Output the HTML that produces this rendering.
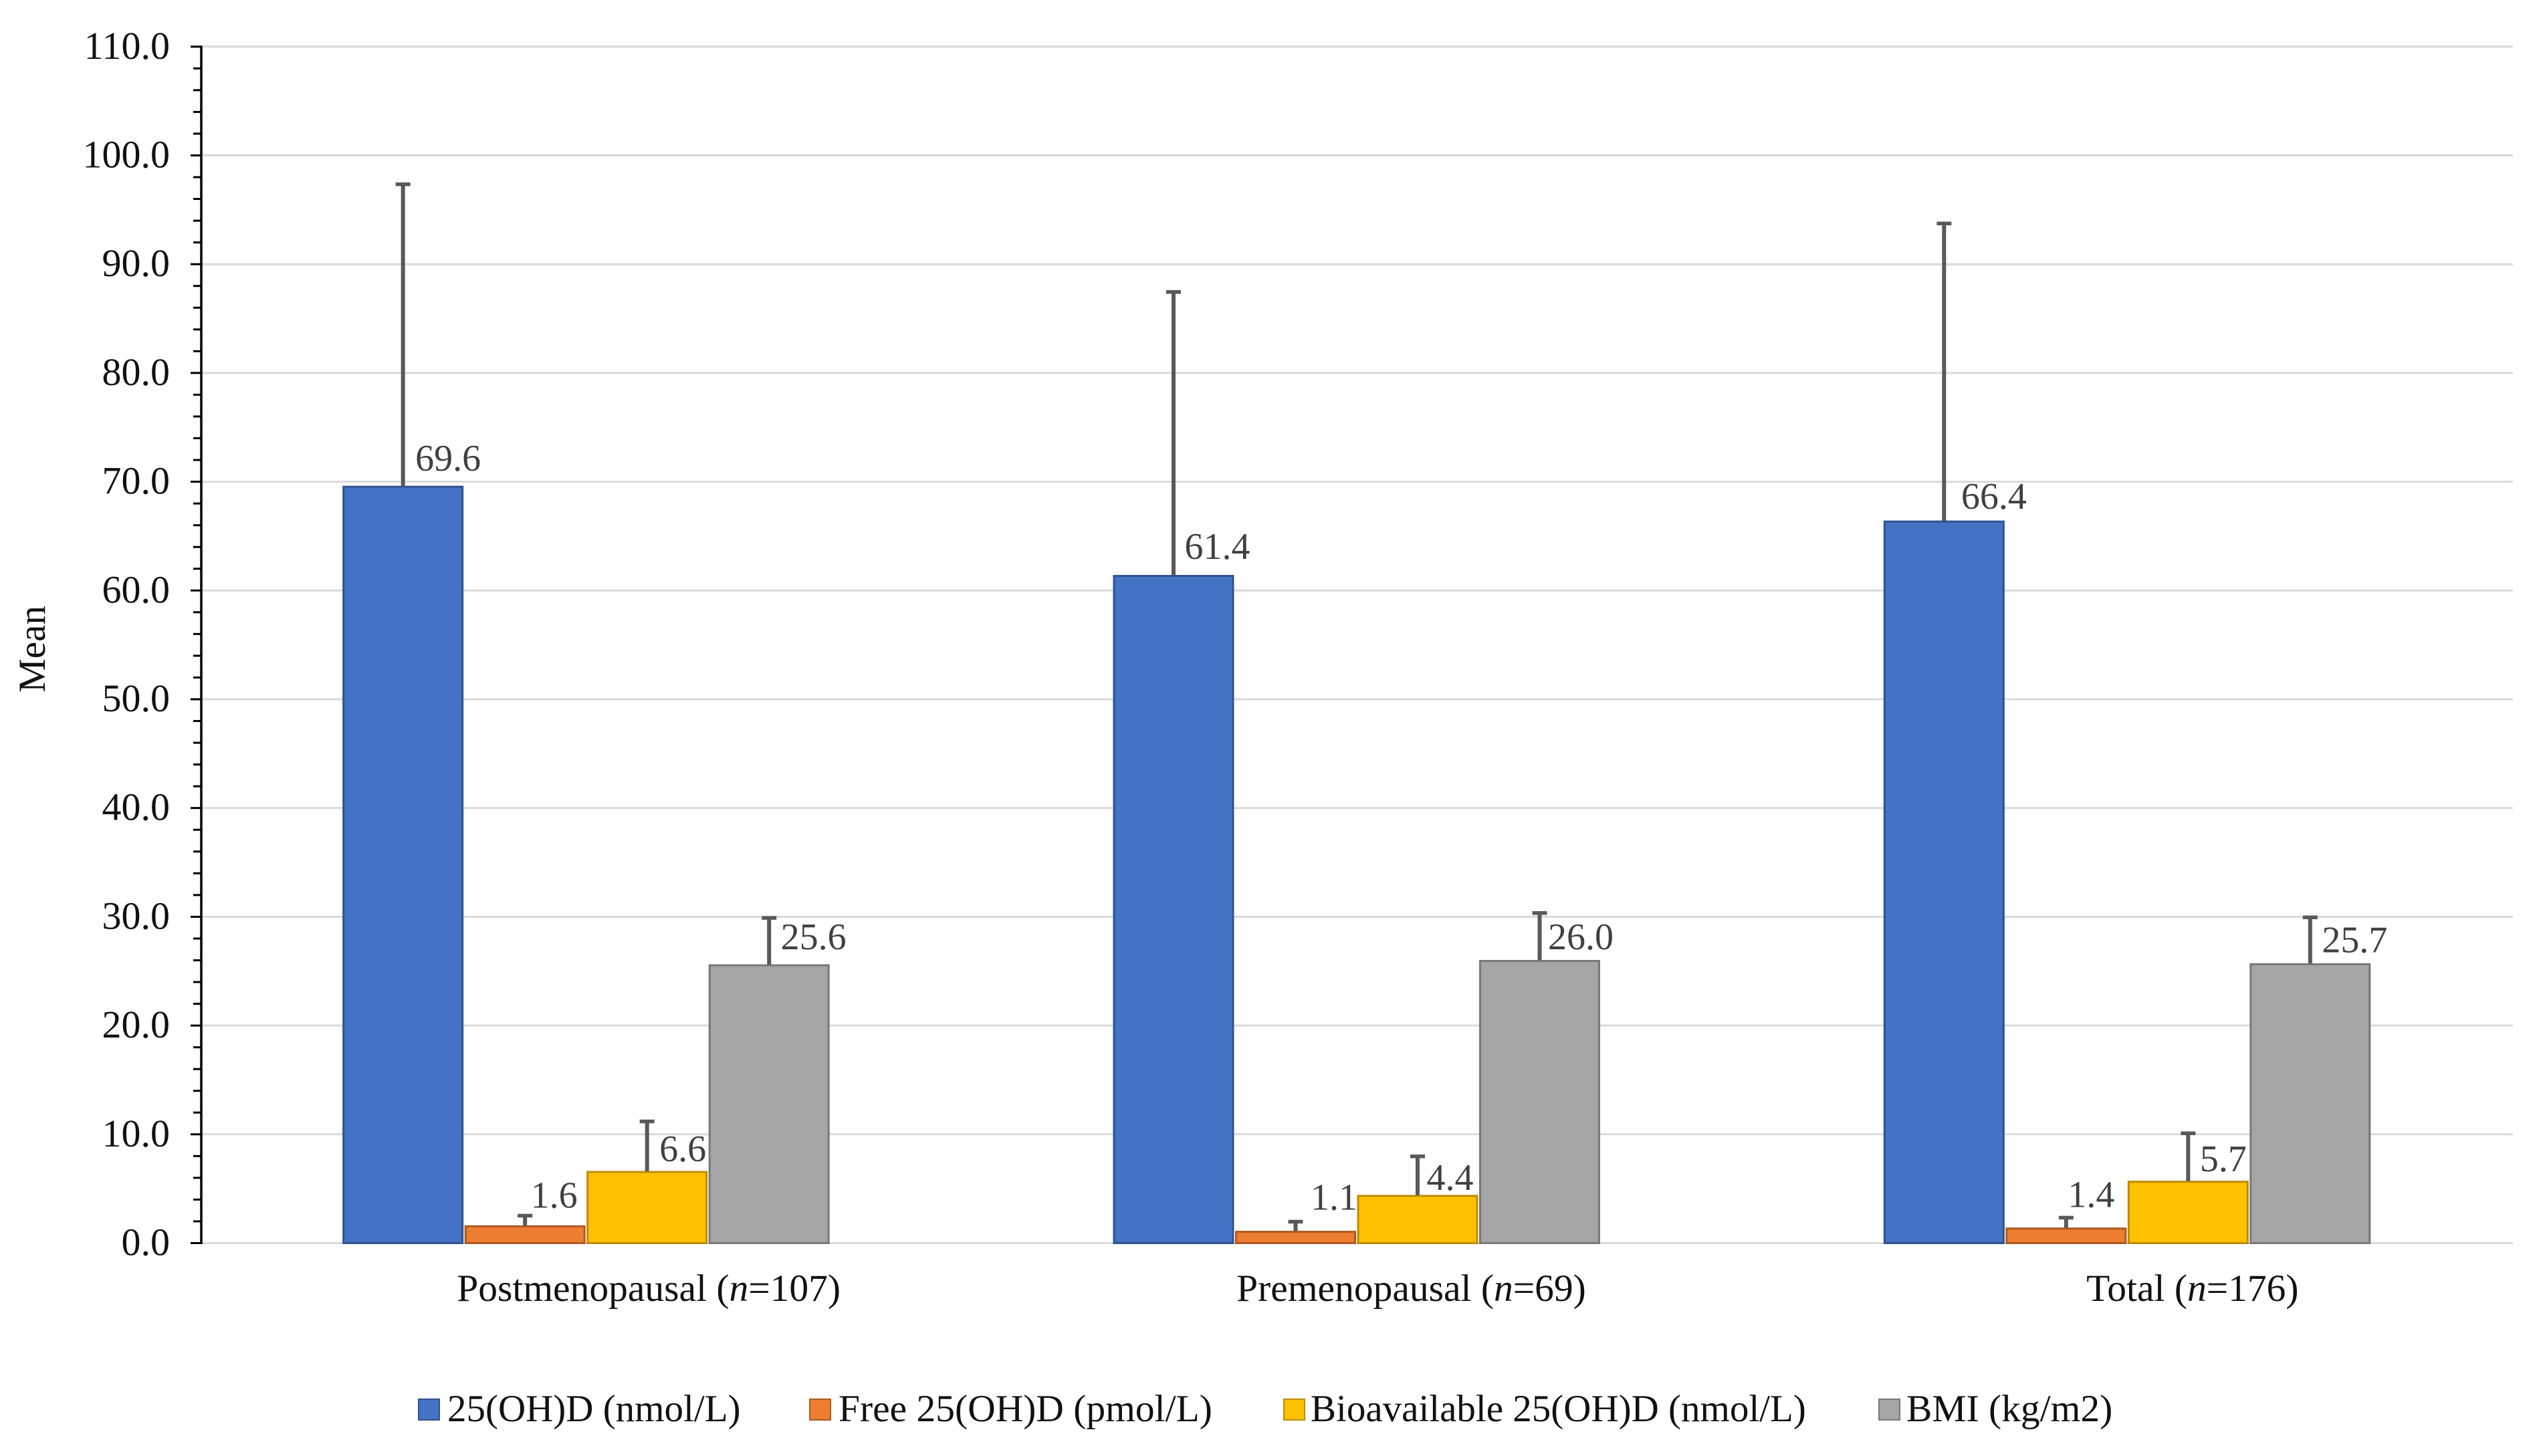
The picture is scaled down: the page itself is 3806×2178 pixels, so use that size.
<!DOCTYPE html>
<html>
<head>
<meta charset="utf-8">
<title>Mean by menopausal status</title>
<style>
html,body{margin:0;padding:0;background:#fff;}
svg{display:block;font-family:"Liberation Serif",serif;}
</style>
</head>
<body>
<svg id="chart" xmlns="http://www.w3.org/2000/svg" width="3806" height="2178" viewBox="0 0 3806 2178">
  <rect x="0" y="0" width="3806" height="2178" fill="#ffffff"/>
  <g id="grid"></g>
  <g id="bars"></g>
  <g id="errs"></g>
  <g id="vals"></g>
  <g id="axis"></g>
  <g id="cats"></g>
  <g id="legend"></g>
  <text transform="translate(67,971) rotate(-90)" text-anchor="middle" font-size="57" fill="#111111">Mean</text>
</svg>
<script>
const categories = ['Postmenopausal', 'Premenopausal', 'Total'];
const sampleSizes = [107, 69, 176];
const seriesNames = ['25(OH)D (nmol/L)', 'Free 25(OH)D (pmol/L)', 'Bioavailable 25(OH)D (nmol/L)', 'BMI (kg/m2)'];
const means25OHD = [69.6, 61.4, 66.4];
const meansFree = [1.6, 1.1, 1.4];
const meansBioavailable = [6.6, 4.4, 5.7];
const meansBMI = [25.6, 26.0, 25.7];
const errors25OHD = [27.9, 26.2, 27.5];
const errorsFree = [1.07, 1.02, 1.09];
const errorsBioavailable = [4.74, 3.73, 4.55];
const errorsBMI = [4.45, 4.5, 4.4];
const yTickValues = [0, 10, 20, 30, 40, 50, 60, 70, 80, 90, 100, 110];

const seriesMeans = [means25OHD, meansFree, meansBioavailable, meansBMI];
const seriesErrors = [errors25OHD, errorsFree, errorsBioavailable, errorsBMI];

const NS = 'http://www.w3.org/2000/svg';
const plotLeft = 301, plotRight = 3758, y0 = 1859.5, unitPx = 16.27;
const bandW = (plotRight - plotLeft) / categories.length;
const barStep = 182.5, barW = 181;
const fills = ['#4472C4', '#ED7D31', '#FFC000', '#A5A5A5'];
const strokes = ['#2F528F', '#AE5A21', '#BC8C00', '#787878'];

function yScale(v) { return y0 - v * unitPx; }
function xBar(g, s) { return plotLeft + g * bandW + (bandW - seriesMeans.length * barStep) / 2 + s * barStep; }
function mk(tag, attrs, parentId) {
  const el = document.createElementNS(NS, tag);
  for (const k in attrs) el.setAttribute(k, attrs[k]);
  document.getElementById(parentId).appendChild(el);
  return el;
}

/* gridlines, ticks, tick labels */
const axisMax = yTickValues[yTickValues.length - 1];
yTickValues.forEach(function (v, i) {
  const y = yScale(v);
  const line = mk('line', {x1: plotLeft, x2: plotRight, y1: y, y2: y, stroke: '#D9D9D9', 'stroke-width': 3}, 'grid');
  
  
  const tick = mk('line', {x1: 285, x2: plotLeft, y1: y, y2: y, stroke: '#000', 'stroke-width': 3}, 'axis');
  
  
  const label = mk('text', {x: 254, y: y + 18, 'text-anchor': 'end', 'font-size': 58, fill: '#111111'}, 'axis');
  label.textContent = v.toFixed(1);
  
  
  if (i < yTickValues.length - 1) {
    const step = (yTickValues[i + 1] - v) / 5;
    for (let m = 1; m < 5; m++) {
      const ym = yScale(v + m * step);
      const minor = mk('line', {x1: 289, x2: plotLeft, y1: ym, y2: ym, stroke: '#000', 'stroke-width': 3}, 'axis');
      
      
    }
  }
});
const axisLine = mk('line', {x1: plotLeft, x2: plotLeft, y1: yScale(axisMax) - 1.5, y2: yScale(0) + 1.5, stroke: '#000', 'stroke-width': 3.5}, 'axis');



/* label placement relative to each bar: layout only, not data */
const labelDx = [[18.5, 16.5, 25.5], [8.5, 22.5, 2.5], [18.5, 13.5, 17.5], [17.5, 12.5, 17.5]];
const labelDy = [[-23, -24.5, -18], [-27, -32, -31], [-15, -8, -15], [-23, -16.5, -17]];

/* bars, error bars, data labels */
seriesMeans.forEach(function (vals, s) {
  vals.forEach(function (v, g) {
    const x = xBar(g, s), top = yScale(v), cx = x + barW / 2;
    const bar = mk('rect', {x: x + 1.5, y: top + 1, width: barW - 3, height: y0 - top - 1, fill: fills[s], stroke: strokes[s], 'stroke-width': 3}, 'bars');
    
    
    const yErr = yScale(v + seriesErrors[s][g]);
    const stem = mk('line', {x1: cx, x2: cx, y1: top, y2: yErr, stroke: '#595959', 'stroke-width': 6}, 'errs');
    
    
    const cap = mk('line', {x1: cx - 11, x2: cx + 11, y1: yErr + 2.5, y2: yErr + 2.5, stroke: '#595959', 'stroke-width': 5.5}, 'errs');
    
    
    const lab = mk('text', {x: cx + labelDx[s][g], y: top + labelDy[s][g], 'font-size': 56, fill: '#404040'}, 'vals');
    lab.textContent = v.toFixed(1);
    
    
  });
});

/* category labels */
const catCenterShift = [93, 81, 97];
categories.forEach(function (c, g) {
  const t = mk('text', {x: plotLeft + (g + 0.5) * bandW + catCenterShift[g], y: 1946, 'text-anchor': 'middle', 'font-size': 57.5, fill: '#111111'}, 'cats');
  
  
  t.appendChild(document.createTextNode(c + ' ('));
  const it = document.createElementNS(NS, 'tspan');
  it.setAttribute('font-style', 'italic');
  it.textContent = 'n';
  t.appendChild(it);
  t.appendChild(document.createTextNode('=' + sampleSizes[g] + ')'));
});

/* legend */
const legendSwatchLeft = [626, 1211, 1920, 2810];
const legendTextLeft = [669, 1254, 1960, 2851];
const legendFontSize = [57, 57.5, 57, 57.5];
seriesNames.forEach(function (name, s) {
  const sw = mk('rect', {x: legendSwatchLeft[s], y: 2093, width: 31, height: 31, fill: fills[s], stroke: strokes[s], 'stroke-width': 2}, 'legend');
  
  
  const t = mk('text', {x: legendTextLeft[s], y: 2126, 'font-size': legendFontSize[s], fill: '#111111'}, 'legend');
  t.textContent = name;
  
  
});
</script>
</body>
</html>
